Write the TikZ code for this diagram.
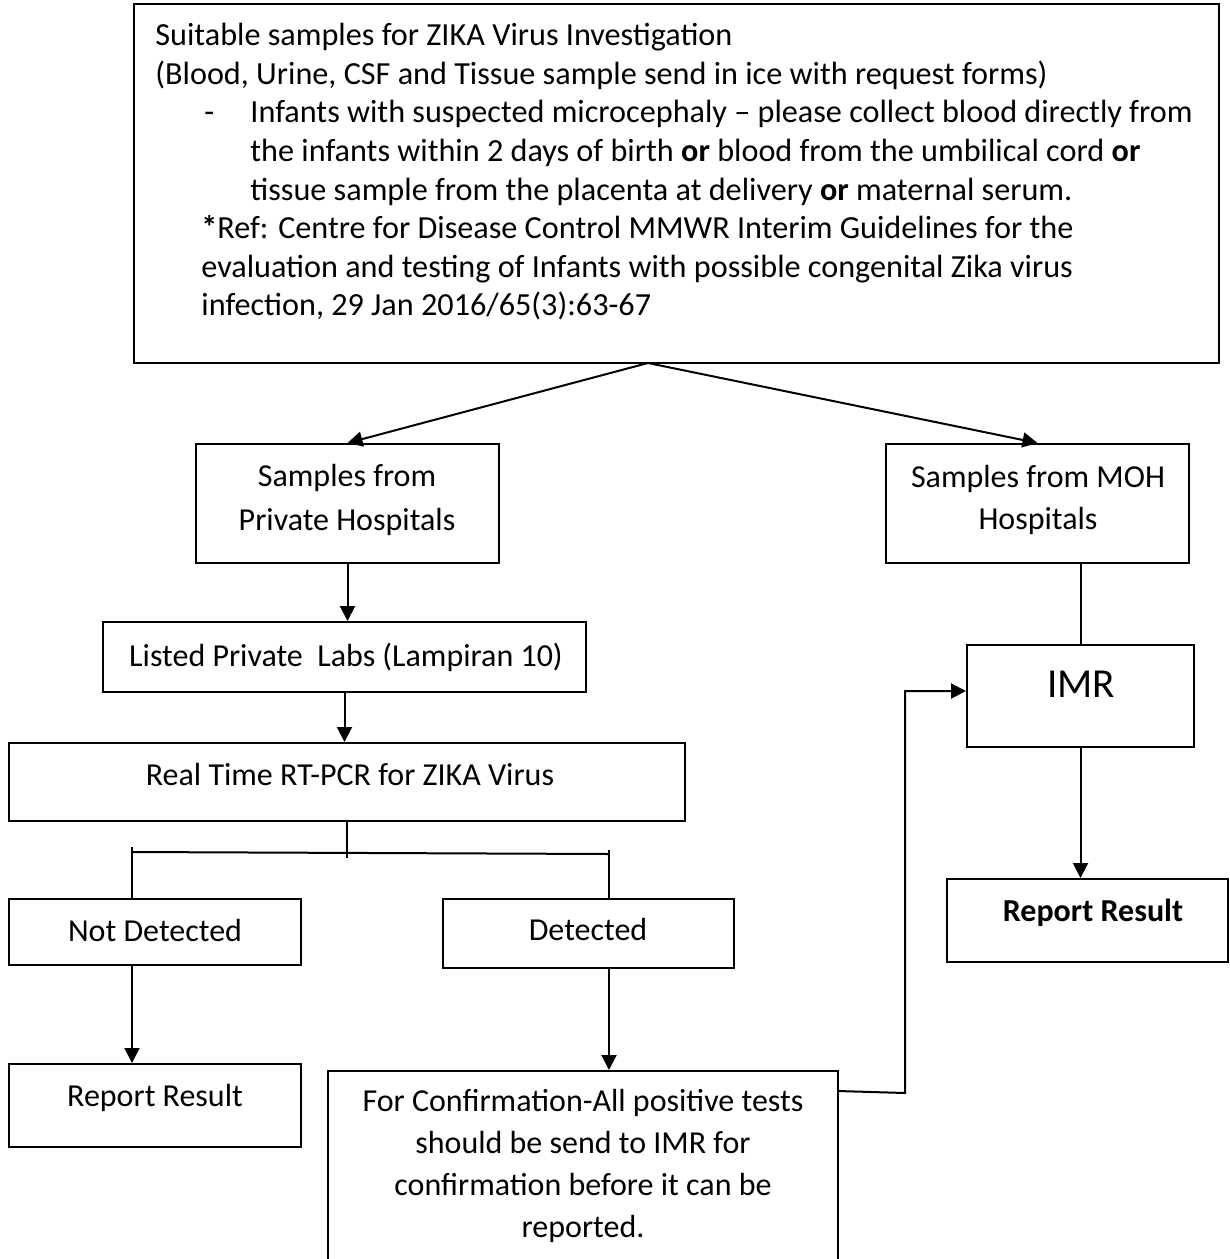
\documentclass[tikz,border=0pt]{standalone}
\usepackage{fontspec}
\setmainfont{Carlito}
\usetikzlibrary{arrows.meta}
\begin{document}
\begin{tikzpicture}[x=0.5pt,y=-0.5pt,
  box/.style={draw, line width=1pt, rectangle, inner sep=0pt},
  lbl/.style={anchor=base, inner sep=0pt, font=\fontsize{16}{19}\selectfont},
  toptxt/.style={anchor=base west, inner sep=0pt, font=\fontsize{16.1}{19}\selectfont},
  link/.style={line width=1pt},
  arr/.style={line width=1pt, -{Triangle[length=7.5pt,width=7.5pt]}}
]
% page frame
\fill[white] (0,0) rectangle (1230,1259);
\useasboundingbox (0,0) rectangle (1230,1259);
\clip (0,0) rectangle (1230,1259);

% ---------- boxes ----------
\node[box, minimum width=542.5pt, minimum height=179.5pt] (top)    at (676.5,183.5) {};
\node[box, minimum width=151.5pt, minimum height=59.5pt]  (priv)   at (347.5,503.5) {};
\node[box, minimum width=151.5pt, minimum height=59.5pt]  (moh)    at (1037.5,503.5) {};
\node[box, minimum width=241.5pt, minimum height=35pt]    (labs)   at (344.5,657) {};
\node[box, minimum width=338pt,   minimum height=39pt]    (rtpcr)  at (347,782) {};
\node[box, minimum width=146pt,   minimum height=33pt]    (notdet) at (155,932) {};
\node[box, minimum width=145.5pt, minimum height=34.5pt]  (det)    at (588.5,933.5) {};
\node[box, minimum width=146pt,   minimum height=41.5pt]  (repL)   at (155,1105.5) {};
\node[box, minimum width=255pt,   minimum height=114.5pt] (conf)   at (583,1185.5) {};
\node[box, minimum width=113.5pt, minimum height=51pt]    (imr)    at (1080.5,696) {};
\node[box, minimum width=140.5pt, minimum height=41.5pt]  (repR)   at (1087.5,920.5) {};

% ---------- texts ----------
\node[toptxt] (l1) at (155,45.7) {Suitable samples for ZIKA Virus Investigation};
\node[toptxt] (l2) at (155,84.3) {(Blood, Urine, CSF and Tissue sample send in ice with request forms)};
\node[toptxt] (l3d) at (204,122.9) {-};
\node[toptxt] (l3) at (250,122.9) {Infants with suspected microcephaly -- please collect blood directly from};
\node[toptxt] (l4) at (250,161.5) {the infants within 2 days of birth \textbf{or} blood from the umbilical cord \textbf{or}};
\node[toptxt] (l5) at (250,200.1) {tissue sample from the placenta at delivery \textbf{or} maternal serum.};
\node[toptxt] (l6) at (201,238.7) {\textbf{*}Ref: Centre for Disease Control MMWR Interim Guidelines for the};
\node[toptxt] (l7) at (201,277.3) {evaluation and testing of Infants with possible congenital Zika virus};
\node[toptxt] (l8) at (201,315.9) {infection, 29 Jan 2016/65(3):63-67};

\node[lbl] (priv1) at (347,486) {Samples from};
\node[lbl] (priv2) at (347,530) {Private Hospitals};
\node[lbl] (moh1) at (1038,487) {Samples from MOH};
\node[lbl] (moh2) at (1038,529) {Hospitals};
\node[lbl] (labs1) at (346,666) {Listed Private\ \ Labs (Lampiran 10)};
\node[lbl] (rtpcr1) at (350,785) {Real Time RT-PCR for ZIKA Virus};
\node[lbl] (notdet1) at (155,941) {Not Detected};
\node[lbl] (det1) at (588,940) {Detected};
\node[lbl] (repL1) at (155,1106) {Report Result};
\node[lbl] (conf1) at (583,1111) {For Confirmation-All positive tests};
\node[lbl] (conf2) at (583,1153) {should be send to IMR for};
\node[lbl] (conf3) at (583,1195) {confirmation before it can be};
\node[lbl] (conf4) at (583,1237) {reported.};
\node[lbl, font=\fontsize{20.6}{24}\selectfont] (imr1) at (1081,697) {IMR};
\node[lbl, font=\bfseries\fontsize{16}{19}\selectfont] (repR1) at (1093,921) {Report Result};

% ---------- connectors ----------
\coordinate (split) at (648,363);
\draw[arr] (split) -- (priv.north);
\draw[arr] (split) -- (moh.north);

\draw[arr] (priv.south) -- (priv.south |- labs.north);
\draw[arr] (labs.south) -- (labs.south |- rtpcr.north);

\coordinate (barL) at (132,852);
\coordinate (barR) at (609,854);
\coordinate (tickL) at (132,847);
\coordinate (tickR) at (609,850);
\draw[link] (rtpcr.south) -- (347,858);
\draw[link] (barL) -- (barR);
\draw[link] (tickL) -- (tickL |- notdet.north);
\draw[link] (tickR) -- (tickR |- det.north);

\draw[arr] (tickL |- notdet.south) -- (tickL |- repL.north);
\draw[arr] (tickR |- det.south) -- (tickR |- conf.north);

\coordinate (cout) at (838,1091);
\draw[arr] (cout) -- (905,1093) -- (905,691) -- (imr.west |- 0,691);

\draw[link] (imr.north) -- (imr.north |- moh.south);
\draw[arr] (imr.south) -- (imr.south |- repR.north);
\end{tikzpicture}
\end{document}
